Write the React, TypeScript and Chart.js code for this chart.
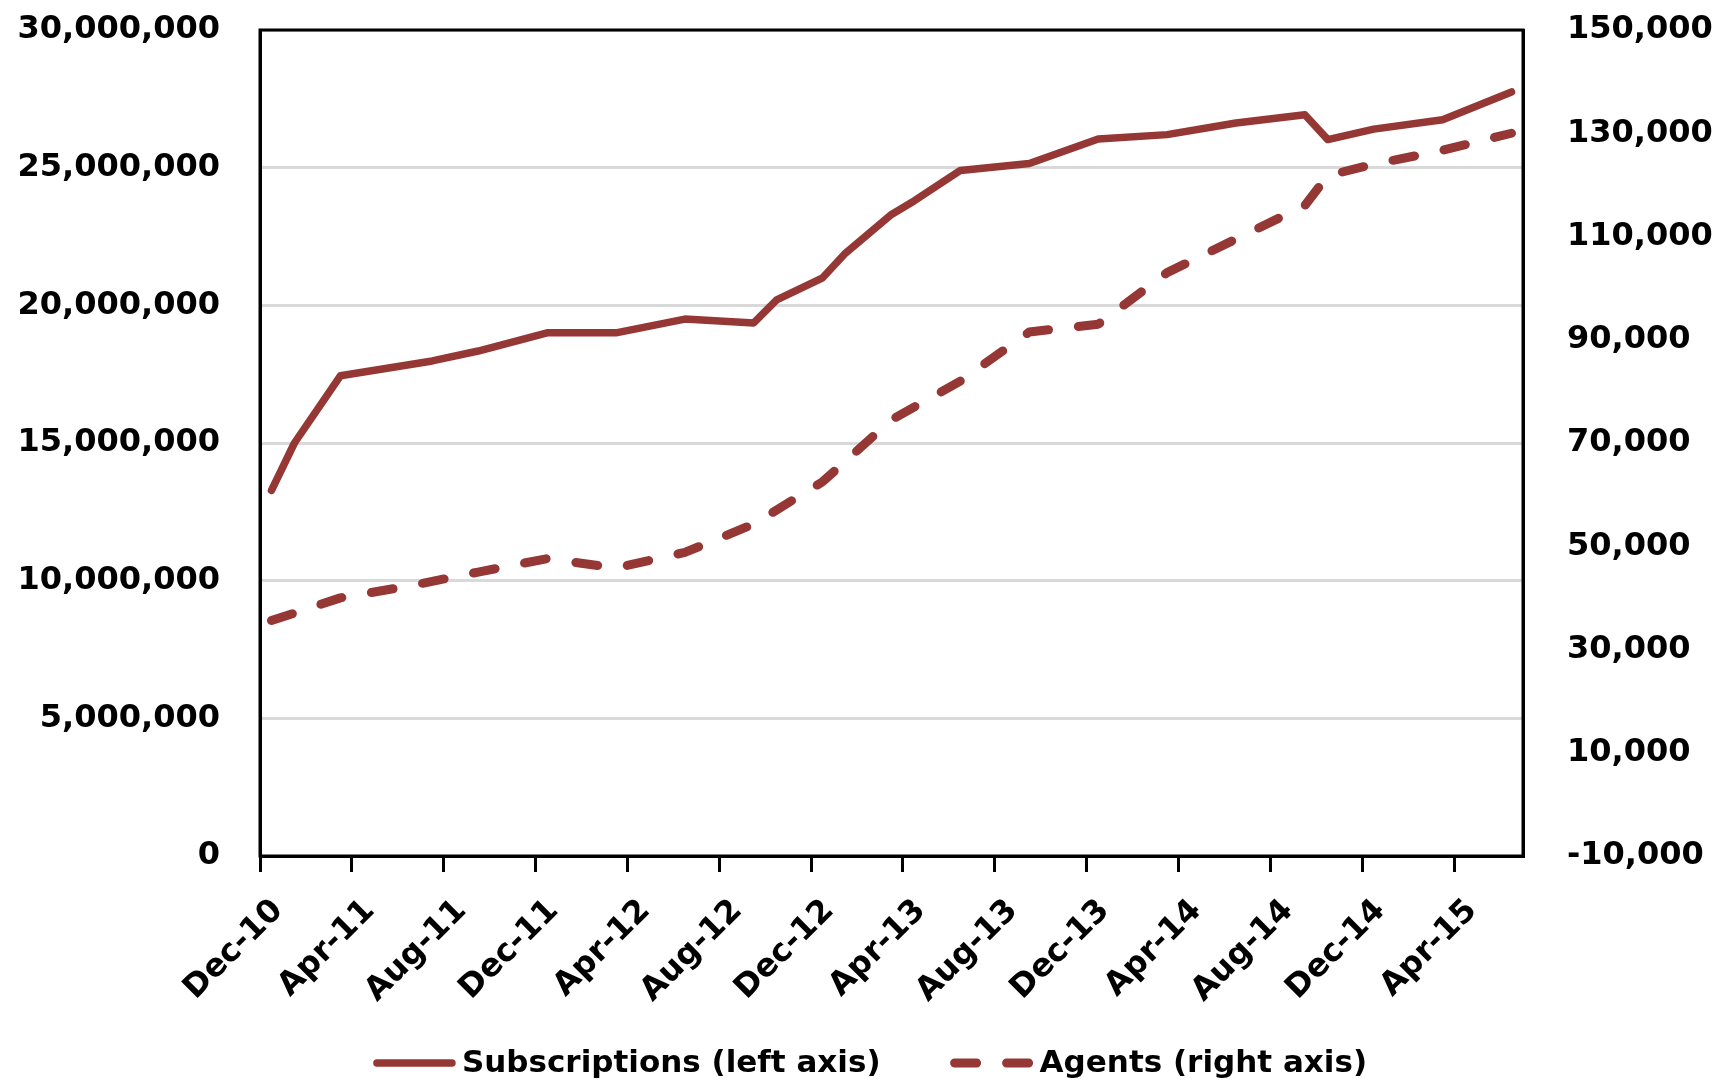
import { useEffect, useRef } from 'react';
import { Chart, registerables } from 'chart.js';

Chart.register(...registerables);

// x axis: one slot per month, Dec-10 (0) .. Jun-15 (54)
const axisMonths = 55;
const xTickLabels = ['Dec-10', 'Apr-11', 'Aug-11', 'Dec-11', 'Apr-12', 'Aug-12', 'Dec-12', 'Apr-13', 'Aug-13', 'Dec-13', 'Apr-14', 'Aug-14', 'Dec-14', 'Apr-15'];
const seriesLabels = ['Subscriptions (left axis)', 'Agents (right axis)'];

// Subscriptions (left axis): month index from Dec-10, value
const subsMonthIdx = [0, 1, 3, 7, 9, 12, 15, 18, 21, 22, 24, 25, 27, 28, 30, 33, 36, 39, 42, 45, 46, 48, 51, 54];
const subsValues = [13280000, 15000000, 17440000, 17980000, 18340000, 19000000, 19000000, 19500000, 19360000, 20200000, 21000000, 21900000, 23300000, 23800000, 24900000, 25150000, 26040000, 26200000, 26620000, 26920000, 26020000, 26400000, 26740000, 27750000];

// Agents (right axis)
const agentMonthIdx = [0, 3, 6, 9, 12, 15, 18, 21, 24, 27, 30, 33, 36, 39, 42, 45, 46, 48, 51, 54];
const agentValues = [35600, 40000, 42300, 45000, 47600, 45800, 48800, 54300, 62500, 74500, 82000, 91500, 93000, 103000, 109500, 116000, 121800, 124000, 126700, 130000];

const leftTicks = { min: 0, max: 30000000, step: 5000000 };
const rightTicks = { min: -10000, max: 150000, step: 20000 };

const FONT = '"DejaVu Sans", sans-serif';
const RED = '#953735';
const W = 1728;
const H = 1087;

const plotBorder = {
  id: 'plotBorder',
  afterDraw(chart: any) {
    const { ctx, chartArea: a } = chart;
    ctx.save();
    ctx.strokeStyle = '#000';
    ctx.lineWidth = 3;
    ctx.strokeRect(a.left, a.top, a.right - a.left, a.bottom - a.top);
    ctx.restore();
  },
};

const lineLegend = {
  id: 'lineLegend',
  afterDraw(chart: any) {
    const ctx = chart.ctx;
    ctx.save();
    ctx.font = `bold 31px ${FONT}`;
    ctx.textBaseline = 'middle';
    ctx.fillStyle = '#000';
    const sample = 83;
    const gapText = 6;
    const gapItem = 70;
    const items = chart.data.datasets.map((ds: any) => ({ ds, w: ctx.measureText(ds.label).width }));
    const total = items.reduce((s: number, it: any) => s + sample + gapText + it.w, 0) + gapItem * (items.length - 1);
    let x = chart.width / 2 + 6 - total / 2;
    const y = 1063;
    for (const it of items) {
      const ds = it.ds;
      ctx.strokeStyle = ds.borderColor;
      ctx.lineWidth = ds.borderWidth;
      ctx.lineCap = ds.borderCapStyle || 'butt';
      ctx.setLineDash(ds.borderDash || []);
      ctx.beginPath();
      ctx.moveTo(x + 4, y);
      ctx.lineTo(x + sample - 4, y);
      ctx.stroke();
      ctx.setLineDash([]);
      ctx.fillText(ds.label, x + sample + gapText, y + 1);
      x += sample + gapText + it.w + gapItem;
    }
    ctx.restore();
  },
};

export default function App() {
  const ref = useRef<HTMLCanvasElement>(null);

  useEffect(() => {
    document.body.style.margin = '0';
    const tickFont = { family: FONT, size: 32, weight: 'bold' as const };
    const chart = new Chart(ref.current!, {
      type: 'line',
      data: {
        datasets: [
          {
            label: seriesLabels[0],
            data: subsMonthIdx.map((m, i) => ({ x: m + 0.5, y: subsValues[i] })),
            yAxisID: 'y',
            borderColor: RED,
            backgroundColor: RED,
            borderWidth: 7.5,
            borderJoinStyle: 'round',
            borderCapStyle: 'round',
            pointRadius: 0,
            tension: 0,
          },
          {
            label: seriesLabels[1],
            data: agentMonthIdx.map((m, i) => ({ x: m + 0.5, y: agentValues[i] })),
            yAxisID: 'y1',
            borderColor: RED,
            backgroundColor: RED,
            borderWidth: 9,
            borderDash: [22, 30],
            borderCapStyle: 'round',
            borderJoinStyle: 'round',
            pointRadius: 0,
            tension: 0,
          },
        ],
      },
      options: {
        responsive: false,
        animation: false,
        events: [],
        layout: { padding: { top: 30, bottom: 52, left: 0, right: 0 } },
        plugins: { legend: { display: false }, tooltip: { enabled: false } },
        scales: {
          x: {
            type: 'linear',
            min: 0,
            max: axisMonths,
            position: 'bottom',
            ticks: {
              stepSize: 4,
              includeBounds: false,
              autoSkip: false,
              maxRotation: 45,
              minRotation: 45,
              padding: 20,
              labelOffset: 18,
              color: '#000',
              font: { family: FONT, size: 32, weight: 'bold' },
              callback: (v: any) => xTickLabels[Math.round(Number(v) / 4)] ?? '',
            },
            grid: { drawOnChartArea: false, drawTicks: true, tickLength: 16, color: '#000', lineWidth: 3 },
            border: { display: true, color: '#000', width: 3 },
            afterFit: (s: any) => { s.height = 179; },
          },
          y: {
            type: 'linear',
            position: 'left',
            min: leftTicks.min,
            max: leftTicks.max,
            ticks: {
              stepSize: leftTicks.step,
              padding: 40,
              color: '#000',
              font: tickFont,
              callback: (v: any) => Number(v).toLocaleString('en-US'),
            },
            grid: { drawTicks: false, color: '#d9d9d9', lineWidth: 3 },
            border: { display: true, color: '#000', width: 3 },
            afterFit: (s: any) => { s.width = 260; s.paddingTop = 20; s.paddingBottom = 20; },
          },
          y1: {
            type: 'linear',
            position: 'right',
            min: rightTicks.min,
            max: rightTicks.max,
            ticks: {
              stepSize: rightTicks.step,
              padding: 44,
              color: '#000',
              font: tickFont,
              callback: (v: any) => Number(v).toLocaleString('en-US'),
            },
            grid: { drawOnChartArea: false, drawTicks: false },
            border: { display: true, color: '#000', width: 3 },
            afterFit: (s: any) => { s.width = W - 1523; s.paddingTop = 20; s.paddingBottom = 20; },
          },
        },
      },
      plugins: [plotBorder, lineLegend],
    } as any);
    return () => chart.destroy();
  }, []);

  return (
    <div style={{ width: W, height: H, background: '#fff' }}>
      <canvas ref={ref} width={W} height={H} style={{ display: 'block' }} />
    </div>
  );
}
